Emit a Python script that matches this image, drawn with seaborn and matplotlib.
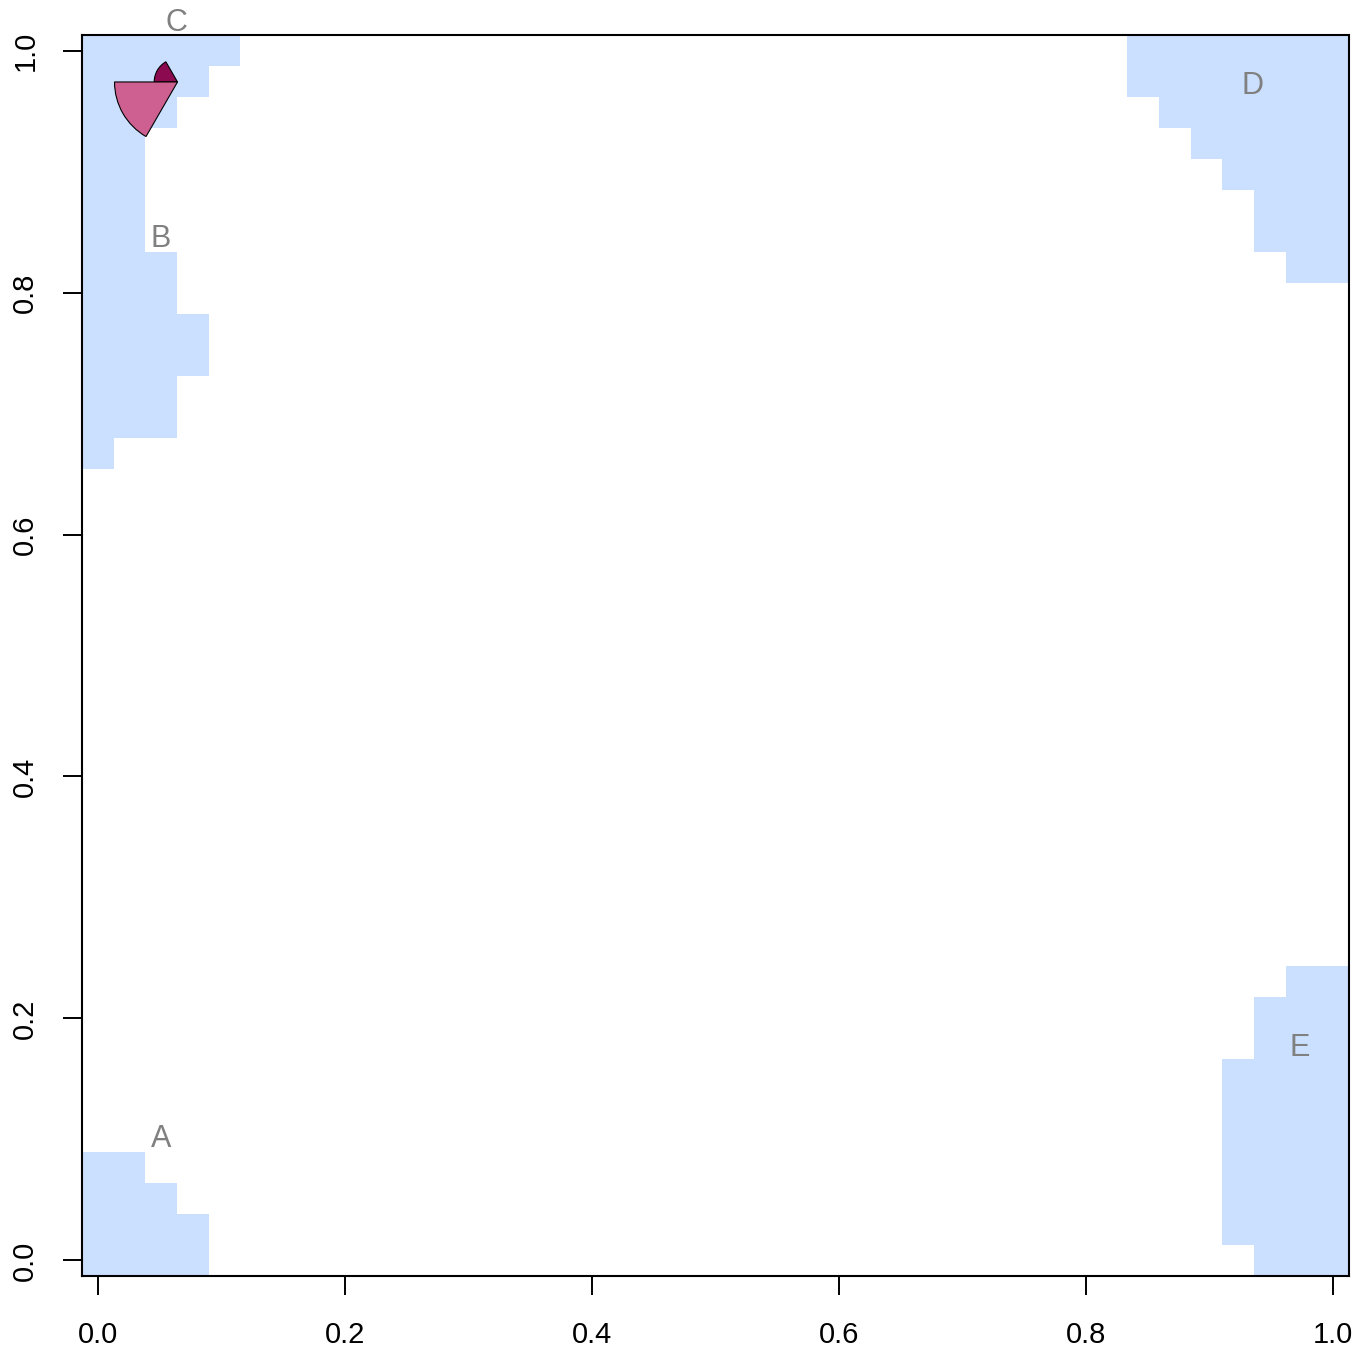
import numpy as np
import matplotlib
matplotlib.use("Agg")
import matplotlib.pyplot as plt
import seaborn as sns
from matplotlib.colors import ListedColormap
from matplotlib.patches import Wedge
from matplotlib import transforms

# grid of 40 x 40 cells, cell centres at i/39
n_cells = 40

# region A (bottom-left): rows from bottom, number of cells filled from the left
a_rows = [0, 1, 2, 3]
a_counts = [4, 4, 3, 2]
# region B / C (top-left)
b_rows = list(range(26, 40))
b_counts = [1, 3, 3, 4, 4, 3, 3, 2, 2, 2, 2, 3, 4, 5]
# region D (top-right): number of cells filled from the right
d_rows = list(range(32, 40))
d_counts = [2, 3, 3, 4, 5, 6, 7, 7]
# region E (bottom-right)
e_rows = list(range(0, 10))
e_counts = [3, 4, 4, 4, 4, 4, 4, 3, 3, 2]

label_names = ["A", "B", "C", "D", "E"]
label_x = [0.051, 0.051, 0.064, 0.935, 0.973]
label_y = [0.100, 0.844, 1.023, 0.971, 0.176]

# segment glyph at C
glyph_x = 0.0645
glyph_y = 0.974
glyph_values = [0.0, 0.0, 0.37, 1.0, 0.0, 0.0]
glyph_colors = ["#4B0030", "#6A0040", "#8B0A50", "#CD6090", "#E48AB0", "#F4B8D0"]

tick_vals = [0.0, 0.2, 0.4, 0.6, 0.8, 1.0]
tick_labels = ["0.0", "0.2", "0.4", "0.6", "0.8", "1.0"]

blue = "#CAE0FE"

grid = np.zeros((n_cells, n_cells))
for r, c in zip(a_rows, a_counts):
    grid[r, :c] = 1
for r, c in zip(b_rows, b_counts):
    grid[r, :c] = 1
for r, c in zip(d_rows, d_counts):
    grid[r, n_cells - c:] = 1
for r, c in zip(e_rows, e_counts):
    grid[r, n_cells - c:] = 1


def pos(v):
    # data value -> heatmap cell coordinate
    return 0.5 + (n_cells - 1) * np.asarray(v)


plt.rcParams["font.family"] = ["Liberation Sans", "DejaVu Sans"]

fig = plt.figure(figsize=(13.6, 13.55), dpi=100)
ax = fig.add_axes([82 / 1360, 79 / 1355, 1267 / 1360, 1241 / 1355])

sns.heatmap(grid, mask=(grid == 0), cmap=ListedColormap([blue]), cbar=False,
            ax=ax, xticklabels=False, yticklabels=False, linewidths=0)
ax.set_xlim(0, n_cells)
ax.set_ylim(0, n_cells)

for s in ax.spines.values():
    s.set_visible(True)
    s.set_linewidth(1.5)
    s.set_color("black")

ax.set_xticks(pos(tick_vals))
ax.set_xticklabels(tick_labels, fontsize=21)
ax.set_yticks(pos(tick_vals))
ax.set_yticklabels(tick_labels, fontsize=21, rotation=90, va="center")
ax.tick_params(axis="both", direction="out", length=13.7, width=1.4, color="black")
ax.tick_params(axis="x", pad=19)
ax.tick_params(axis="y", pad=17)

for name, x, y in zip(label_names, label_x, label_y):
    ax.text(pos(x), pos(y), name, color="#808080", fontsize=22,
            ha="center", va="center", clip_on=False)

# glyph segments drawn in screen units (radius in inches)
trans = fig.dpi_scale_trans + transforms.ScaledTranslation(pos(glyph_x), pos(glyph_y), ax.transData)
n_seg = len(glyph_values)
for i, (v, col) in enumerate(zip(glyph_values, glyph_colors)):
    if v <= 0:
        continue
    t1 = 360.0 * i / n_seg
    t2 = 360.0 * (i + 1) / n_seg
    w = Wedge((0, 0), 0.63 * v, t1, t2, transform=trans, facecolor=col,
              edgecolor="black", linewidth=0.8, clip_on=False)
    ax.add_artist(w)

fig.savefig("out.png", dpi=100)
